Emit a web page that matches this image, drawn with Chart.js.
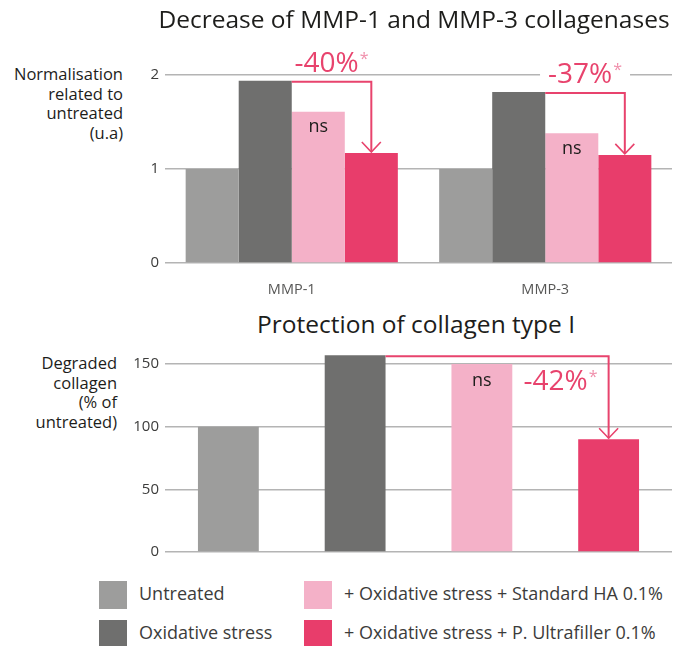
<!DOCTYPE html>
<html>
<head>
<meta charset="utf-8">
<script src="https://cdn.jsdelivr.net/npm/chart.js@4/dist/chart.umd.min.js"></script>
<style>
  body { margin: 0; width: 683px; height: 646px; background: #fff; overflow: hidden; position: relative; font-family: "Open Sans", sans-serif; }
  canvas { position: absolute; left: 0; }
  .title { position: absolute; white-space: nowrap; transform: translateX(-50%); font-size: 24.5px; line-height: 24px; color: #1d1d1b; z-index: 2; }
  .ytitle { position: absolute; text-align: right; font-size: 16.5px; line-height: 19.5px; color: #1d1d1b; }
  .legend { position: absolute; font-size: 18px; color: #3c3c3b; white-space: nowrap; }
  .legend .sw { position: absolute; width: 28px; height: 28px; }
  .legend span.t { position: absolute; line-height: 28px; }
</style>
</head>
<body>
<div class="title" style="left:414px; top:7px;">Decrease of MMP-1 and MMP-3 collagenases</div>
<div class="ytitle" style="right:560px; top:64px;">Normalisation<br>related to<br>untreated<br>(u.a)</div>
<canvas id="mmpChart" width="683" height="300" style="top:0px"></canvas>

<div class="title" style="left:416px; top:312px;">Protection of collagen type I</div>
<div class="ytitle" style="right:566px; top:353px;">Degraded<br>collagen<br>(% of<br>untreated)</div>
<canvas id="collagenChart" width="683" height="230" style="top:340px"></canvas>

<div id="legend"></div>

<script>
// categories and values
const mmpCategories = ["MMP-1", "MMP-3"];
const untreated = [1.0, 1.0];
const oxidative = [1.94, 1.82];
const standardHA = [1.61, 1.38];
const ultrafiller = [1.17, 1.15];
const mmpDecrease = ["-40%", "-37%"];

const groupNames = [
  "Untreated",
  "Oxidative stress",
  "+ Oxidative stress + Standard HA 0.1%",
  "+ Oxidative stress + P. Ultrafiller 0.1%",
];
const collagenValues = [100, 157, 150, 90];
const collagenDecrease = "-42%";

const colors = ["#9d9d9c", "#6f6f6e", "#f4b1c8", "#e83d6b"];
const pink = "#e8436d";

// legend
const legend = document.getElementById("legend");
const legendPos = [[99, 581], [99, 620], [303.5, 581], [303.5, 620]];
groupNames.forEach((name, i) => {
  const d = document.createElement("div");
  d.className = "legend";
  d.style.left = legendPos[i][0] + "px";
  d.style.top = legendPos[i][1] + "px";
  d.innerHTML = `<div class="sw" style="background:${colors[i]}"></div><span class="t" style="left:${i < 2 ? 40 : 40.5}px; top:-2px">${name}</span>`;
  legend.appendChild(d);
});

function drawBracket(ctx, x1, y1, x2, y2) {
  ctx.save();
  ctx.strokeStyle = pink;
  ctx.lineWidth = 2;
  ctx.beginPath();
  ctx.moveTo(x1, y1 + 1);
  ctx.lineTo(x2, y1 + 1);
  ctx.lineTo(x2, y2 - 1);
  ctx.stroke();
  ctx.lineWidth = 1.6;
  ctx.beginPath();
  ctx.moveTo(x2 - 9.5, y2 - 11);
  ctx.lineTo(x2, y2 - 1);
  ctx.lineTo(x2 + 9.5, y2 - 11);
  ctx.stroke();
  ctx.restore();
}

function drawPercent(ctx, text, cx, baseline, bg) {
  ctx.save();
  ctx.font = '28px "Open Sans"';
  const w = ctx.measureText(text).width;
  ctx.font = '16px "Open Sans"';
  const ws = ctx.measureText("*").width;
  const total = w + ws + 1;
  const left = cx - total / 2;
  if (bg) {
    ctx.fillStyle = "#fff";
    ctx.fillRect(left - 8, baseline - 21, total + 16, 25);
  }
  ctx.textBaseline = "alphabetic";
  ctx.textAlign = "left";
  ctx.fillStyle = pink;
  ctx.font = '28px "Open Sans"';
  ctx.fillText(text, left, baseline);
  ctx.fillStyle = "#f08fab";
  ctx.font = '16px "Open Sans"';
  ctx.fillText("*", left + w + 1, baseline - 8);
  ctx.restore();
}

function drawNs(ctx, bar, offset) {
  ctx.save();
  ctx.font = '18px "Open Sans"';
  ctx.fillStyle = "#1d1d1b";
  ctx.textAlign = "center";
  ctx.textBaseline = "middle";
  ctx.fillText("ns", bar.x, bar.y + offset);
  ctx.restore();
}

const mmpPlugin = {
  id: "mmpNotes",
  afterDatasetsDraw(chart) {
    const ctx = chart.ctx;
    const ox = chart.getDatasetMeta(1).data;
    const ha = chart.getDatasetMeta(2).data;
    const uf = chart.getDatasetMeta(3).data;
    mmpCategories.forEach((c, i) => {
      const x1 = ox[i].x + ox[i].width / 2;
      drawBracket(ctx, x1, ox[i].y, uf[i].x, uf[i].y);
      drawPercent(ctx, mmpDecrease[i], (x1 + uf[i].x) / 2, ox[i].y - 9, i === 1);
      drawNs(ctx, ha[i], 15.5);
    });
  },
};

const collagenPlugin = {
  id: "collagenNotes",
  afterDatasetsDraw(chart) {
    const ctx = chart.ctx;
    const bars = chart.getDatasetMeta(0).data;
    const ox = bars[1], ha = bars[2], uf = bars[3];
    const x1 = ox.x + ox.width / 2;
    drawBracket(ctx, x1, ox.y, uf.x, uf.y);
    drawPercent(ctx, collagenDecrease, (ha.x + ha.width / 2 + uf.x) / 2, ox.y + 35, false);
    drawNs(ctx, ha, 17);
  },
};

const gridStyle = { color: "#b4b4b4", lineWidth: 1.5, drawTicks: false };
const tickFont = { family: "Open Sans", size: 15 };

new Chart(document.getElementById("mmpChart"), {
  type: "bar",
  data: {
    labels: mmpCategories,
    datasets: [
      { label: groupNames[0], data: untreated, backgroundColor: colors[0] },
      { label: groupNames[1], data: oxidative, backgroundColor: colors[1] },
      { label: groupNames[2], data: standardHA, backgroundColor: colors[2] },
      { label: groupNames[3], data: ultrafiller, backgroundColor: colors[3] },
    ],
  },
  options: {
    responsive: false,
    devicePixelRatio: 1,
    animation: false,
    layout: { padding: { top: 75, right: 11, left: 0, bottom: 0 } },
    datasets: { bar: { categoryPercentage: 0.837, barPercentage: 1 } },
    plugins: { legend: { display: false }, tooltip: { enabled: false } },
    scales: {
      x: {
        grid: { display: false },
        border: { display: false },
        ticks: { font: { family: "Open Sans", size: 14.5 }, color: "#575756", padding: 10 },
        afterFit(scale) { scale.height = 37; },
      },
      y: {
        min: 0,
        max: 2,
        grid: gridStyle,
        border: { display: false },
        ticks: { stepSize: 1, font: tickFont, color: "#3c3c3b", padding: 6 },
        afterFit(scale) { scale.width = 165; },
      },
    },
  },
  plugins: [mmpPlugin],
});

new Chart(document.getElementById("collagenChart"), {
  type: "bar",
  data: {
    labels: groupNames,
    datasets: [
      { data: collagenValues, backgroundColor: colors, clip: false },
    ],
  },
  options: {
    responsive: false,
    devicePixelRatio: 1,
    animation: false,
    layout: { padding: { top: 24, right: 11, left: 0, bottom: 18 } },
    datasets: { bar: { categoryPercentage: 1, barPercentage: 0.48 } },
    plugins: { legend: { display: false }, tooltip: { enabled: false } },
    scales: {
      x: { display: false },
      y: {
        min: 0,
        max: 150,
        grid: gridStyle,
        border: { display: false },
        ticks: { stepSize: 50, font: tickFont, color: "#3c3c3b", padding: 6 },
        afterFit(scale) { scale.width = 165; },
      },
    },
  },
  plugins: [collagenPlugin],
});
</script>
</body>
</html>
